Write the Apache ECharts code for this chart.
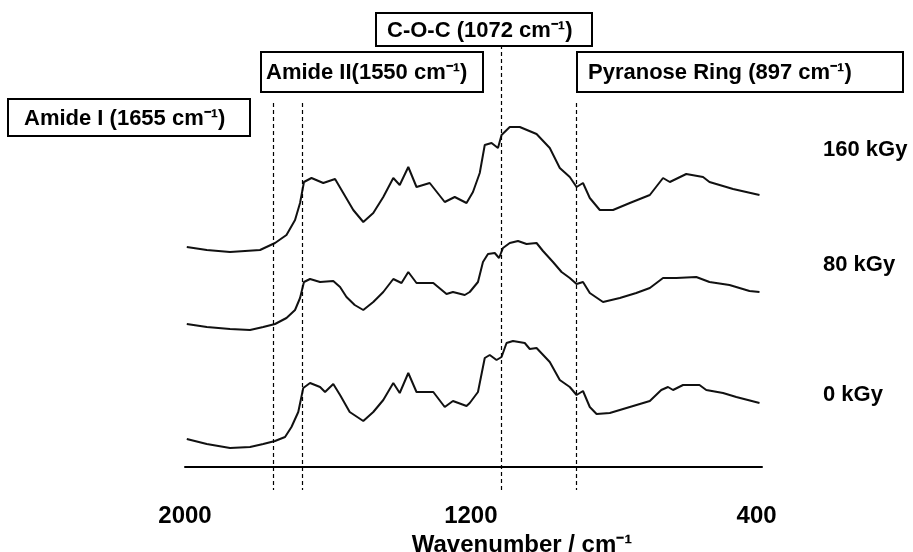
<!DOCTYPE html>
<html>
<head>
<meta charset="utf-8">
<script src="https://cdn.jsdelivr.net/npm/echarts@6/dist/echarts.min.js"></script>
<style>
  html, body { margin: 0; padding: 0; background: #fff; }
  #chart { width: 913px; height: 552px; }
</style>
</head>
<body>
<div id="chart"></div>
<script>
// wavenumber (cm-1), offset absorbance (a.u.)
const kgy160 = [
  [1995, 2.20], [1939, 2.17], [1874, 2.15], [1790, 2.17], [1748, 2.24], [1716, 2.32],
  [1692, 2.47], [1678, 2.64], [1667, 2.85], [1646, 2.89], [1613, 2.84], [1580, 2.88],
  [1557, 2.74], [1529, 2.57], [1501, 2.45], [1473, 2.54], [1445, 2.70], [1417, 2.89],
  [1399, 2.82], [1375, 3.00], [1352, 2.80], [1315, 2.84], [1273, 2.65], [1245, 2.70],
  [1212, 2.64], [1194, 2.75], [1175, 2.94], [1161, 3.22], [1142, 3.24], [1124, 3.19],
  [1114, 3.32], [1091, 3.40], [1063, 3.40], [1016, 3.33], [979, 3.19], [951, 2.99],
  [923, 2.90], [904, 2.80], [886, 2.84], [867, 2.69], [839, 2.57], [802, 2.57],
  [755, 2.64], [699, 2.72], [662, 2.89], [643, 2.85], [597, 2.93], [550, 2.90],
  [532, 2.85], [466, 2.78], [392, 2.72]
]
const kgy80 = [
  [1995, 1.43], [1939, 1.40], [1874, 1.38], [1818, 1.37], [1781, 1.40], [1748, 1.43],
  [1716, 1.49], [1692, 1.57], [1678, 1.69], [1667, 1.85], [1650, 1.88], [1622, 1.85],
  [1585, 1.86], [1566, 1.80], [1548, 1.70], [1525, 1.62], [1501, 1.57], [1473, 1.65],
  [1445, 1.75], [1417, 1.88], [1394, 1.84], [1375, 1.95], [1352, 1.84], [1305, 1.84],
  [1268, 1.73], [1250, 1.75], [1217, 1.72], [1203, 1.75], [1180, 1.85], [1166, 2.05],
  [1152, 2.13], [1133, 2.14], [1121, 2.09], [1110, 2.19], [1091, 2.24], [1068, 2.26],
  [1044, 2.23], [1016, 2.24], [998, 2.16], [970, 2.05], [946, 1.95], [923, 1.89],
  [904, 1.83], [886, 1.85], [867, 1.74], [830, 1.65], [783, 1.69], [737, 1.74],
  [699, 1.79], [662, 1.89], [625, 1.89], [569, 1.90], [532, 1.85], [476, 1.82],
  [420, 1.76], [392, 1.75]
]
const kgy0 = [
  [1995, 0.28], [1939, 0.23], [1874, 0.19], [1818, 0.20], [1781, 0.23], [1748, 0.26],
  [1720, 0.30], [1702, 0.40], [1683, 0.55], [1669, 0.79], [1650, 0.84], [1622, 0.80],
  [1608, 0.75], [1585, 0.83], [1566, 0.72], [1539, 0.55], [1501, 0.46], [1473, 0.55],
  [1445, 0.67], [1417, 0.84], [1399, 0.74], [1375, 0.94], [1352, 0.75], [1305, 0.75],
  [1273, 0.60], [1250, 0.66], [1212, 0.61], [1203, 0.64], [1180, 0.75], [1161, 1.09],
  [1147, 1.12], [1128, 1.07], [1114, 1.10], [1100, 1.24], [1082, 1.26], [1049, 1.24],
  [1035, 1.18], [1016, 1.19], [979, 1.05], [951, 0.87], [923, 0.80], [904, 0.72],
  [886, 0.76], [867, 0.60], [848, 0.53], [811, 0.54], [755, 0.60], [699, 0.66],
  [667, 0.77], [648, 0.80], [634, 0.77], [606, 0.82], [560, 0.82], [541, 0.77],
  [494, 0.74], [457, 0.70], [392, 0.64]
]

// dotted guide lines: position, top, bottom
const guideX = [1752, 1673, 1115, 904]
const guideTop = [3.64, 3.64, 4.22, 3.64]
const guideBottom = -0.23

const xTicks = [2000, 1200, 400]
const doseLabels = ['160 kGy', '80 kGy', '0 kGy']
const bandLabels = [
  'Amide I (1655 cm⁻¹)',
  'Amide II(1550 cm⁻¹)',
  'C-O-C (1072 cm⁻¹)',
  'Pyranose Ring (897 cm⁻¹)'
]

const FONT = '"Liberation Sans", Arial, sans-serif'

const chart = echarts.init(document.getElementById('chart'))

const lineSeries = (name, data) => ({
  name,
  type: 'line',
  data,
  symbol: 'none',
  silent: true,
  lineStyle: { color: '#111', width: 2 }
})

const guides = guideX.map((x, i) => [
  { coord: [x, guideTop[i]] },
  { coord: [x, guideBottom] }
])

const box = (text, x, y, w, h, tx) => ({
  type: 'group',
  children: [
    {
      type: 'rect',
      shape: { x, y, width: w, height: h },
      style: { fill: '#fff', stroke: '#000', lineWidth: 2 }
    },
    {
      type: 'text',
      x: tx,
      y: y + h / 2 + 1,
      style: {
        text,
        font: 'bold 22px ' + FONT,
        fill: '#000',
        align: 'left',
        verticalAlign: 'middle'
      }
    }
  ]
})

const doseText = (text, y) => ({
  type: 'text',
  x: 823,
  y,
  style: {
    text,
    font: 'bold 22px ' + FONT,
    fill: '#000',
    align: 'left',
    verticalAlign: 'middle'
  }
})

chart.setOption({
  animation: false,
  backgroundColor: '#fff',
  grid: { left: 185, right: 151, top: 27, bottom: 55, outerBoundsMode: 'none' },
  xAxis: {
    type: 'value',
    inverse: true,
    min: 385,
    max: 2000,
    name: 'Wavenumber / cm⁻¹',
    nameLocation: 'middle',
    nameGap: 32,
    nameTextStyle: {
      fontFamily: FONT,
      fontWeight: 'bold',
      fontSize: 24,
      color: '#000',
      padding: [0, 0, 0, 97]
    },
    axisLine: { onZero: true, lineStyle: { color: '#000', width: 2 } },
    axisTick: { show: false },
    splitLine: { show: false },
    axisLabel: {
      customValues: xTicks,
      margin: 7,
      formatter: v => String(v),
      fontFamily: FONT,
      fontWeight: 'bold',
      fontSize: 24,
      color: '#000'
    }
  },
  yAxis: {
    type: 'value',
    min: -0.3,
    max: 4.4,
    show: false
  },
  series: [
    lineSeries(doseLabels[0], kgy160),
    lineSeries(doseLabels[1], kgy80),
    Object.assign(lineSeries(doseLabels[2], kgy0), {
      markLine: {
        silent: true,
        symbol: 'none',
        label: { show: false },
        lineStyle: { color: '#000', width: 1.2, type: [4, 3] },
        data: guides
      }
    })
  ],
  graphic: [
    box(bandLabels[0], 8, 99, 242, 37, 24),
    box(bandLabels[1], 261, 52, 222, 40, 266),
    box(bandLabels[2], 376, 13, 216, 33, 387),
    box(bandLabels[3], 577, 52, 326, 40, 588),
    doseText(doseLabels[0], 150),
    doseText(doseLabels[1], 265),
    doseText(doseLabels[2], 395)
  ]
})
</script>
</body>
</html>
